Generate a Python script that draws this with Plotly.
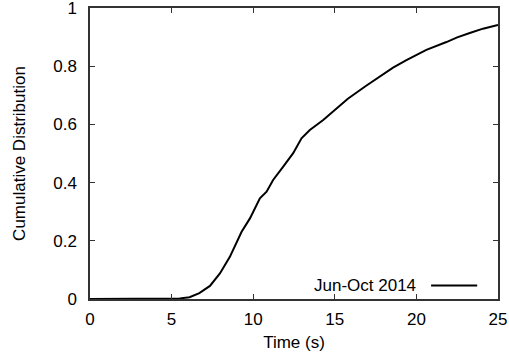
import plotly.graph_objects as go

time_s = [0.0, 5.3, 5.5, 6.1, 6.7, 7.35, 7.96, 8.57, 8.98, 9.29, 9.8, 10.41, 10.82,
          11.22, 11.84, 12.45, 12.96, 13.47, 14.29, 15.1, 15.8, 16.9, 17.96, 18.57,
          19.39, 20.0, 20.61, 21.84, 22.5, 23.27, 24.08, 25.0]
cdf = [0.0, 0.0, 0.002, 0.006, 0.02, 0.045, 0.088, 0.145, 0.191, 0.231, 0.277, 0.346, 0.369,
       0.409, 0.455, 0.501, 0.552, 0.581, 0.615, 0.655, 0.688, 0.732, 0.773, 0.795,
       0.821, 0.838, 0.856, 0.883, 0.899, 0.914, 0.929, 0.942]
series_name = "Jun-Oct 2014"
x_ticks = [0, 5, 10, 15, 20, 25]
y_ticks = [0, 0.2, 0.4, 0.6, 0.8, 1]
y_tick_labels = ["0", "0.2", "0.4", "0.6", "0.8", "1"]

font = "Liberation Sans, Arial, sans-serif"

fig = go.Figure()
fig.add_trace(go.Scatter(x=time_s, y=cdf, mode="lines", name=series_name,
                         line=dict(color="black", width=2), showlegend=False))

axis_common = dict(showline=True, linecolor="#333333", linewidth=1.5, mirror="allticks",
                   ticks="inside", ticklen=5, tickcolor="#333333", tickwidth=1,
                   showgrid=False, zeroline=False, automargin=False,
                   ticklabeloverflow="allow",
                   tickfont=dict(family=font, size=17, color="black"))

fig.update_layout(
    template="none",
    width=509, height=356,
    margin=dict(l=90, r=11, t=8, b=57),
    paper_bgcolor="white", plot_bgcolor="white",
    font=dict(family=font, color="black"),
    xaxis=dict(range=[0, 25], tickvals=x_ticks, ticktext=[str(v) for v in x_ticks],
               ticklabelstandoff=4,
               title=dict(text="Time (s)", font=dict(family=font, size=17), standoff=8),
               **axis_common),
    yaxis=dict(range=[0, 1], tickvals=y_ticks, ticktext=y_tick_labels,
               ticklabelstandoff=8,
               title=dict(text="Cumulative Distribution", font=dict(family=font, size=17), standoff=23),
               **axis_common),
)

# gnuplot-style key: text to the left of the line sample
fig.add_annotation(text=series_name, xref="paper", yref="paper", x=0.804, y=0.046,
                   xanchor="right", yanchor="middle", showarrow=False,
                   font=dict(family=font, size=17, color="black"))
fig.add_shape(type="line", xref="paper", yref="paper", x0=0.836, x1=0.949, y0=0.046, y1=0.046,
              line=dict(color="black", width=2))

fig.write_html("out.html", config={"displayModeBar": False},
               post_script="document.body.style.margin='0';")
